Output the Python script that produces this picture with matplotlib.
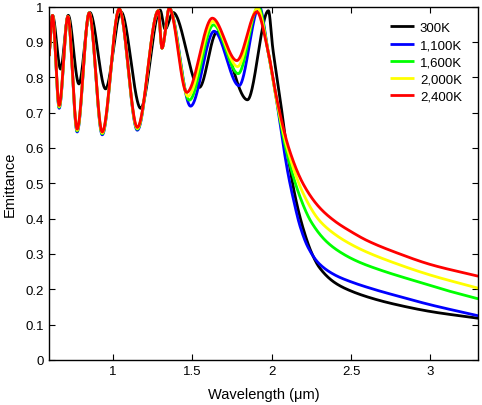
import numpy as np
import matplotlib
matplotlib.use("Agg")
import matplotlib.pyplot as plt

plt.rcParams['font.family'] = ['Liberation Sans', 'DejaVu Sans']

# ---- data (wavelength um, emittance) ----
labels = ["300K", "1,100K", "1,600K", "2,000K", "2,400K"]
colors = ["#000000", "#0000ff", "#00ff00", "#ffff00", "#ff0000"]

wl_300 = [0.600, 0.621, 0.672, 0.720, 0.787, 0.856, 0.955, 1.052, 1.176, 1.298, 1.330, 1.380,
          1.545, 1.655, 1.848, 1.980, 2.008, 2.054, 2.096, 2.152, 2.200, 2.250, 2.300,
          2.400, 2.500, 2.650, 2.800, 3.000, 3.300]
em_300 = [0.860, 0.975, 0.823, 0.975, 0.781, 0.983, 0.767, 0.985, 0.712, 0.990, 0.936, 0.983,
          0.771, 0.927, 0.736, 0.988, 0.880, 0.738, 0.597, 0.455, 0.370, 0.305, 0.262,
          0.218, 0.195, 0.172, 0.155, 0.137, 0.118]

wl_1100 = [0.600, 0.621, 0.663, 0.718, 0.776, 0.852, 0.934, 1.041, 1.155, 1.287, 1.310, 1.356,
           1.490, 1.638, 1.795, 1.923, 1.975, 2.030, 2.077, 2.106, 2.137, 2.180, 2.230, 2.300,
           2.400, 2.500, 2.650, 2.800, 3.000, 3.300]
em_1100 = [0.860, 0.975, 0.712, 0.972, 0.645, 0.982, 0.637, 0.993, 0.650, 0.988, 0.882, 0.995,
           0.718, 0.930, 0.776, 1.000, 0.880, 0.738, 0.597, 0.521, 0.455, 0.377, 0.318, 0.272,
           0.240, 0.221, 0.199, 0.180, 0.156, 0.125]

wl_1600 = [0.600, 0.621, 0.663, 0.718, 0.776, 0.852, 0.934, 1.041, 1.155, 1.287, 1.310, 1.356,
           1.482, 1.634, 1.790, 1.917, 1.975, 2.030, 2.090, 2.180, 2.250, 2.350, 2.450, 2.550,
           2.700, 2.900, 3.100, 3.300]
em_1600 = [0.860, 0.975, 0.715, 0.972, 0.648, 0.982, 0.640, 0.993, 0.653, 0.988, 0.882, 0.995,
           0.735, 0.948, 0.810, 1.000, 0.880, 0.738, 0.597, 0.460, 0.390, 0.333, 0.300, 0.277,
           0.252, 0.224, 0.197, 0.173]

wl_2000 = [0.600, 0.621, 0.663, 0.718, 0.776, 0.852, 0.934, 1.041, 1.155, 1.287, 1.310, 1.356,
           1.474, 1.630, 1.786, 1.912, 1.975, 2.030, 2.100, 2.200, 2.300, 2.400, 2.500, 2.600,
           2.800, 3.000, 3.300]
em_2000 = [0.860, 0.975, 0.717, 0.972, 0.650, 0.982, 0.642, 0.993, 0.655, 0.988, 0.882, 0.995,
           0.746, 0.958, 0.830, 0.995, 0.880, 0.738, 0.597, 0.470, 0.395, 0.355, 0.327, 0.305,
           0.270, 0.240, 0.203]

wl_2400 = [0.600, 0.621, 0.663, 0.718, 0.776, 0.852, 0.934, 1.041, 1.155, 1.287, 1.310, 1.356,
           1.466, 1.627, 1.781, 1.907, 1.975, 2.033, 2.110, 2.200, 2.300, 2.400, 2.500, 2.600,
           2.800, 3.000, 3.300]
em_2400 = [0.860, 0.975, 0.720, 0.972, 0.653, 0.982, 0.645, 0.993, 0.658, 0.988, 0.882, 0.995,
           0.757, 0.967, 0.847, 0.985, 0.880, 0.738, 0.597, 0.497, 0.432, 0.392, 0.363, 0.338,
           0.301, 0.270, 0.237]

xticks = [1, 1.5, 2, 2.5, 3]
xticklabels = ["1", "1.5", "2", "2.5", "3"]
yticks = [0, 0.1, 0.2, 0.3, 0.4, 0.5, 0.6, 0.7, 0.8, 0.9, 1.0]
yticklabels = ["0", "0.1", "0.2", "0.3", "0.4", "0.5", "0.6", "0.7", "0.8", "0.9", "1"]


def smooth_line(x, y, n=1500):
    """Shape-preserving (monotone) cubic drawing through the read points."""
    x = np.asarray(x, float)
    y = np.asarray(y, float)
    h = np.diff(x)
    d = np.diff(y) / h
    m = np.zeros_like(y)
    m[0], m[-1] = d[0], d[-1]
    for k in range(1, len(x) - 1):
        if d[k - 1] * d[k] > 0:
            w1 = 2 * h[k] + h[k - 1]
            w2 = h[k] + 2 * h[k - 1]
            m[k] = (w1 + w2) / (w1 / d[k - 1] + w2 / d[k])
    xs = np.linspace(x[0], x[-1], n)
    idx = np.clip(np.searchsorted(x, xs) - 1, 0, len(x) - 2)
    t = (xs - x[idx]) / h[idx]
    h00 = 2 * t**3 - 3 * t**2 + 1
    h10 = t**3 - 2 * t**2 + t
    h01 = -2 * t**3 + 3 * t**2
    h11 = t**3 - t**2
    ys = h00 * y[idx] + h10 * h[idx] * m[idx] + h01 * y[idx + 1] + h11 * h[idx] * m[idx + 1]
    return xs, ys


series = [(wl_300, em_300), (wl_1100, em_1100), (wl_1600, em_1600),
          (wl_2000, em_2000), (wl_2400, em_2400)]

fig = plt.figure(figsize=(4.82, 4.06), dpi=100)
ax = fig.add_axes([0.102, 0.111, 0.890, 0.8705])

for (xw, ye), c, lab in zip(series, colors, labels):
    xs, ys = smooth_line(xw, ye)
    ax.plot(xs, ys, color=c, lw=2.0, label=lab, solid_capstyle='butt')

ax.set_xlim(0.6, 3.3)
ax.set_ylim(0, 1)
ax.set_xticks(xticks)
ax.set_xticklabels(xticklabels)
ax.set_yticks(yticks)
ax.set_yticklabels(yticklabels)
ax.tick_params(direction='in', top=True, right=True, length=4, width=0.8,
               labelsize=9.5, pad=4, colors='black')
for s in ax.spines.values():
    s.set_linewidth(1.0)
    s.set_color('black')

ax.set_xlabel("Wavelength (\u03bcm)", fontsize=10.5, labelpad=7)
ax.set_ylabel("Emittance", fontsize=10.5, labelpad=6)

leg = ax.legend(loc='upper right', bbox_to_anchor=(0.975, 0.972), frameon=False,
                fontsize=9.5, handlelength=1.8, handletextpad=0.45,
                labelspacing=0.38, borderaxespad=0.0)

fig.savefig("out.png", dpi=100)
